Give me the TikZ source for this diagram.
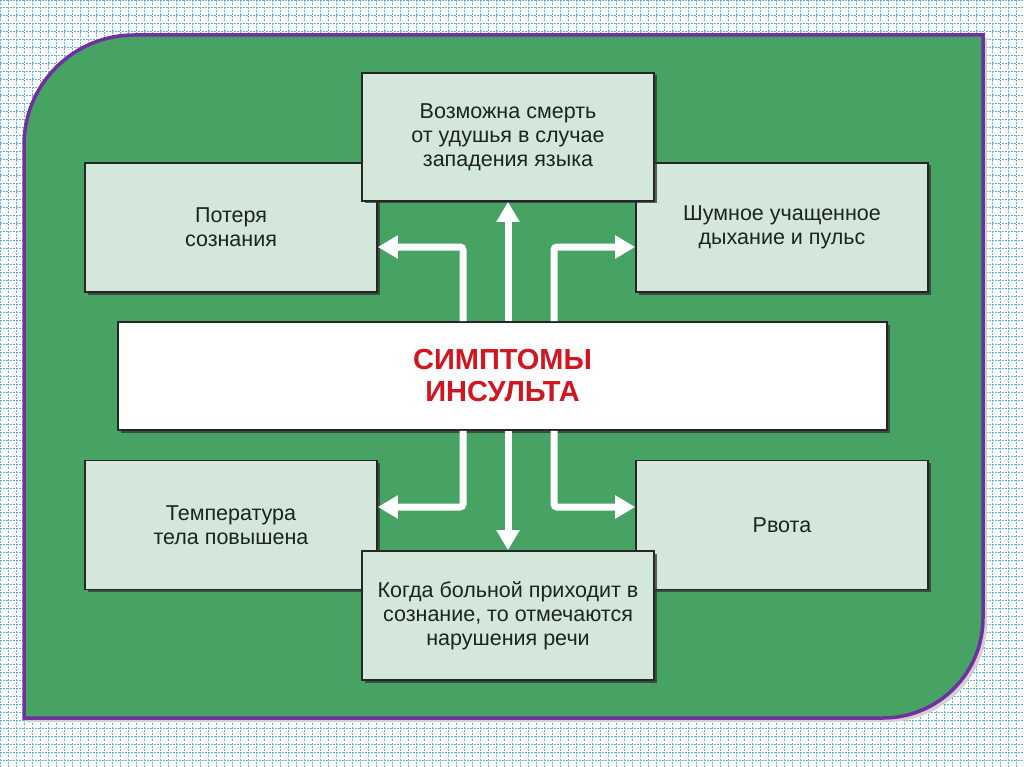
\documentclass[tikz,border=0pt]{standalone}
\usepackage{fontspec}
\setmainfont{Liberation Sans}
\usetikzlibrary{arrows.meta,shadows}
\definecolor{panelgreen}{RGB}{70,163,100}
\definecolor{panelborder}{RGB}{112,48,160}
\definecolor{boxfill}{RGB}{211,232,219}
\definecolor{gridblue}{RGB}{95,180,225}
\definecolor{titlered}{RGB}{208,22,32}
\definecolor{textdark}{RGB}{28,36,32}
\begin{document}
\begin{tikzpicture}[x=1pt,y=-1pt,
  box/.style={draw=black!85, line width=1.6pt, fill=boxfill, align=center,
    text=textdark, font=\fontsize{21.5}{24}\selectfont, inner sep=0pt,
    drop shadow={shadow xshift=2.5pt, shadow yshift=-2.5pt, fill=black!80, opacity=0.75}},
  sidebox/.style={box, minimum width=292pt, minimum height=129pt},
  titlebox/.style={draw=black!85, line width=1.6pt, fill=white, align=center,
    minimum width=769pt, minimum height=108pt, inner sep=0pt,
    text=titlered, font=\fontsize{29}{32}\selectfont\bfseries,
    drop shadow={shadow xshift=2.5pt, shadow yshift=-2.5pt, fill=black!80, opacity=0.75}},
  arr/.style={draw=white, line width=7pt, rounded corners=3pt,
    -{Triangle[length=20pt,width=22pt]}},
]
\useasboundingbox (0,0) rectangle (1024,767);
\fill[white] (0,0) rectangle (1024,767);
\begin{scope}[y=1pt]
\draw[gridblue, line width=1pt, dash pattern=on 2pt off 1.2pt] (0,-767) grid[step=8] (1024,0);
\end{scope}
% panel shadow
\fill[black!18] (27,721) -- (27,400) [rounded corners=110pt] -- (27,38) -- (500,38) [sharp corners] -- (987,38) -- (987,400) [rounded corners=100pt] -- (987,722) -- (500,722) [sharp corners] -- (27,722) -- cycle;
% panel
\path[fill=panelgreen, draw=panelborder, line width=3.5pt]
  (24,718) -- (24,400) [rounded corners=110pt] -- (24,35) -- (500,35) [sharp corners]
  -- (983,35) -- (983,400) [rounded corners=100pt] -- (983,718) -- (500,718) [sharp corners] -- cycle;

% side boxes
\node[sidebox] (lt) at (231,227.5) {Потеря\\сознания};
\node[sidebox] (rt) at (782,227.5) {Шумное учащенное\\дыхание и пульс};
\node[sidebox] (lb) at (231,525) {Температура\\тела повышена};
\node[sidebox] (rb) at (782,525) {Рвота};
% center boxes
\node[box, minimum width=292pt, minimum height=128pt] (top) at (508,137)
  {Возможна смерть\\от удушья в случае\\западения языка};
\node[box, minimum width=292pt, minimum height=129pt] (bot) at (508,615.5)
  {Когда больной приходит в\\сознание, то отмечаются\\нарушения речи};
\node[titlebox] (c) at (502.5,376) {СИМПТОМЫ\\ИНСУЛЬТА};

% arrows
\coordinate (tl) at (463,247);
\coordinate (tr) at (554,247);
\coordinate (bl) at (463,507);
\coordinate (br) at (554,507);
\draw[arr] (c.north -| top.south) -- (top.south);
\draw[arr] (c.north -| tl) -- (tl) -- (lt.east |- tl);
\draw[arr] (c.north -| tr) -- (tr) -- (rt.west |- tr);
\draw[arr] (c.south -| bot.north) -- (bot.north);
\draw[arr] (c.south -| bl) -- (bl) -- (lb.east |- bl);
\draw[arr] (c.south -| br) -- (br) -- (rb.west |- br);
\end{tikzpicture}
\end{document}
